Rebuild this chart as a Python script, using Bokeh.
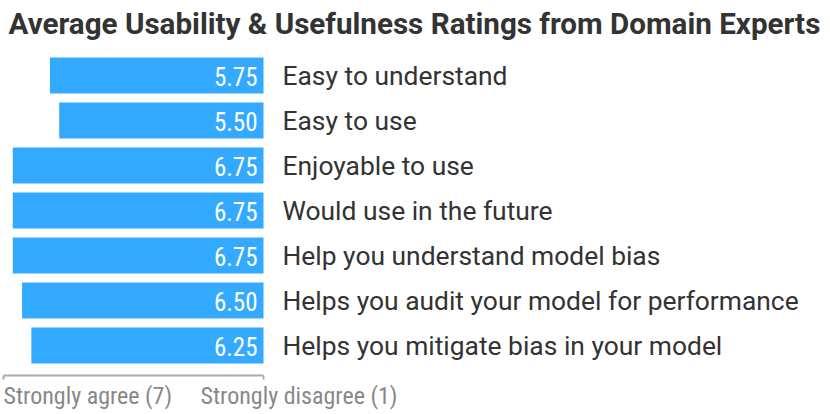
from bokeh.plotting import figure
from bokeh.models import Range1d, ColumnDataSource
from bokeh.core.properties import value
from bokeh.embed import file_html
from bokeh.resources import INLINE

# ---- data ----
title_text = "Average Usability & Usefulness Ratings from Domain Experts"
categories = [
    "Easy to understand",
    "Easy to use",
    "Enjoyable to use",
    "Would use in the future",
    "Help you understand model bias",
    "Helps you audit your model for performance",
    "Helps you mitigate bias in your model",
]
ratings = [5.75, 5.50, 6.75, 6.75, 6.75, 6.50, 6.25]
scale_max = 7
axis_labels = ["Strongly agree (7)", "Strongly disagree (1)"]

# ---- layout ----
W, H = 830, 414
X0 = 263.0          # pixel of rating 0
PXU = 260.0 / 7.0   # pixels per rating unit
TOP0 = 75.0         # pixel centre of first bar
PITCH = 45.0

def py(pix):
    return (pix - TOP0) / PITCH

COND = "'Roboto Condensed', Roboto, sans-serif"
REG = "Roboto, sans-serif"

p = figure(width=W, height=H, output_backend="svg", toolbar_location=None,
           x_range=Range1d(X0 / PXU, (X0 - W) / PXU),
           y_range=Range1d((H - TOP0) / PITCH, -TOP0 / PITCH),
           min_border=0, outline_line_color=None, background_fill_color="white",
           border_fill_color="white")
p.axis.visible = False
p.grid.visible = False

idx = list(range(len(categories)))
src = ColumnDataSource(dict(
    y=idx, v=ratings, zero=[0] * len(idx),
    lab=categories, vlab=[f"{r:.2f}" for r in ratings],
))

p.hbar(y="y", left="zero", right="v", height=36 / PITCH, source=src,
       fill_color="#33aaff", line_color=None)

p.text(x="zero", y="y", text="vlab", source=src, x_offset=-6, y_offset=1,
       text_align="right", text_baseline="middle", text_color="white",
       text_font=value(COND), text_font_size="25px")

p.text(x="zero", y="y", text="lab", source=src, x_offset=19,
       text_align="left", text_baseline="middle", text_color="#333333",
       text_font=value(REG), text_font_size="26.4px")

# axis line with end ticks
ay = py(375)
p.segment(x0=[scale_max], x1=[0], y0=[ay], y1=[ay], line_color="#aaaaaa", line_width=2)
p.segment(x0=[scale_max, 0], x1=[scale_max, 0], y0=[ay, ay], y1=[ay + 4 / PITCH] * 2,
          line_color="#aaaaaa", line_width=2)

ly = py(395.5)
p.text(x=[scale_max, 0], y=[ly, ly], text=axis_labels, x_offset=[0, -63],
       text_align="left", text_baseline="middle", text_color="#888888",
       text_font=value(COND), text_font_size="24px")

# title
p.text(x=[X0 / PXU], y=[py(23)], text=[title_text], text_align="left",
       text_baseline="middle", text_color="#333333", text_font=value(REG),
       text_font_size="29.6px", text_font_style="bold", x_offset=8)

open("out.html", "w").write(file_html(p, INLINE))
